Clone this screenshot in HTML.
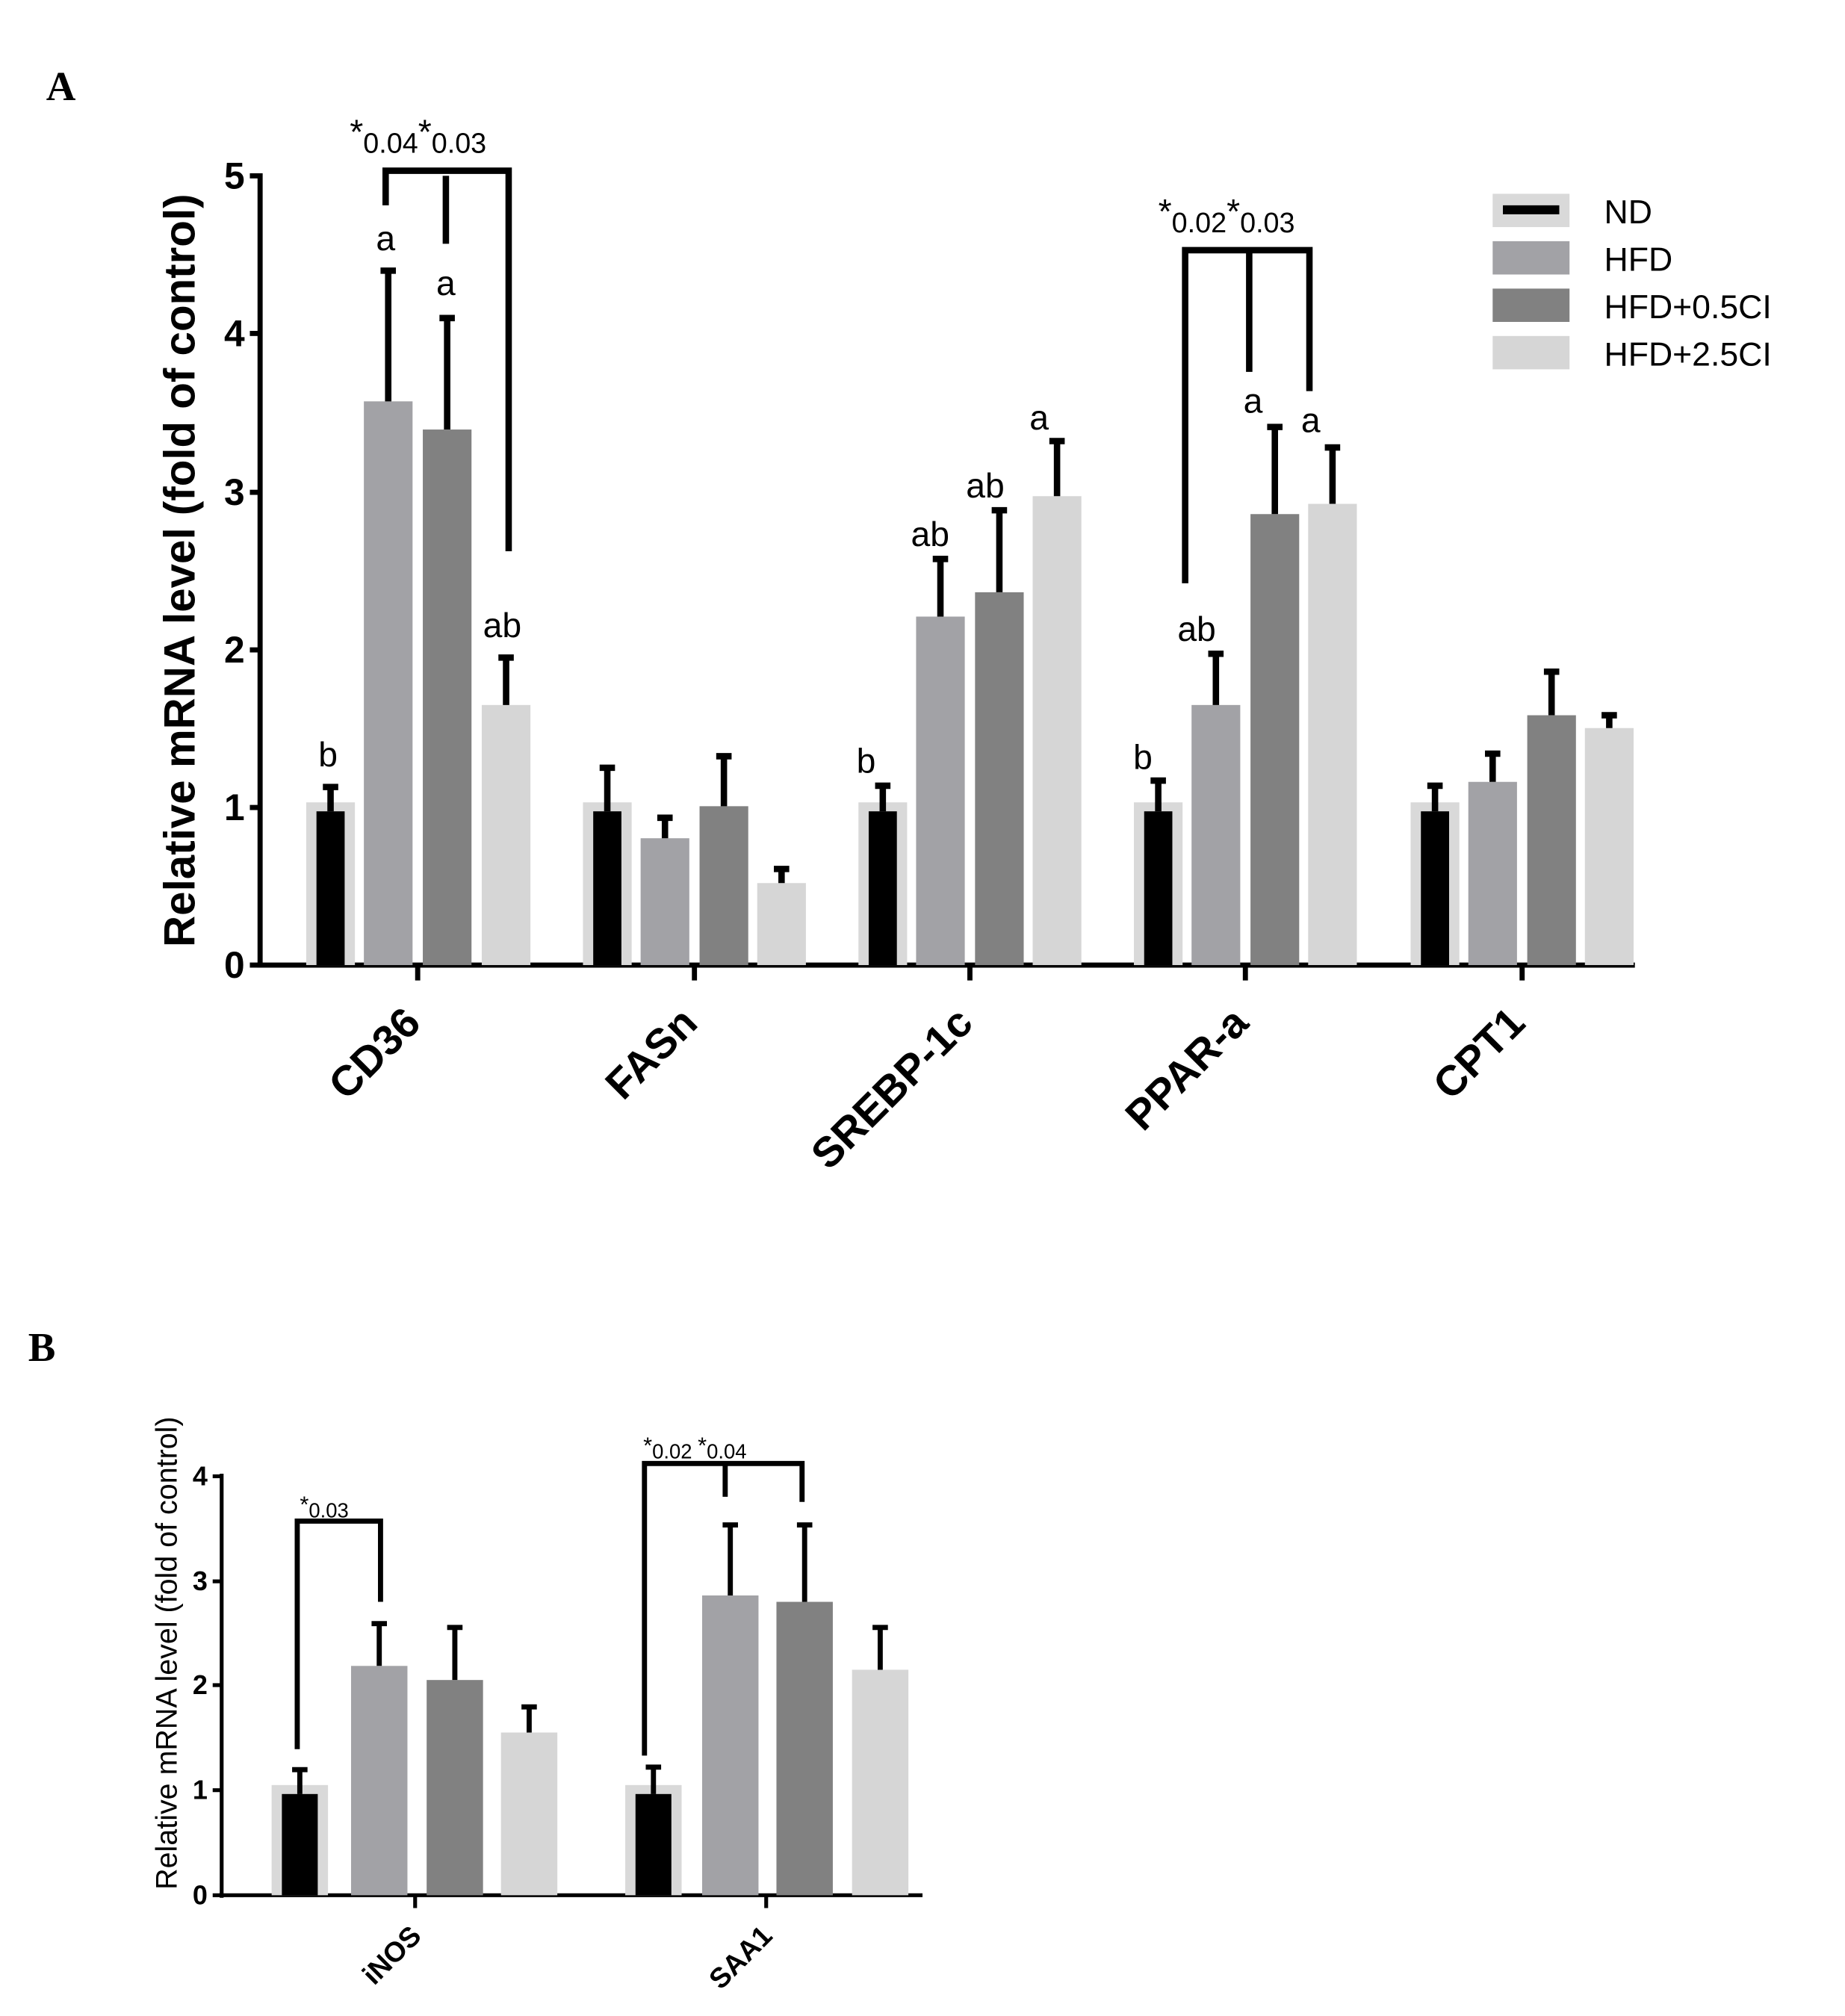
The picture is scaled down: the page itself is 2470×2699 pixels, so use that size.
<!DOCTYPE html>
<html><head><meta charset="utf-8"><style>
html,body{margin:0;padding:0;background:#fff;}
svg{display:block;}
text{font-family:"Liberation Sans",sans-serif;}
text.serif{font-family:"Liberation Serif",serif;}
</style></head><body>
<svg width="2470" height="2699" viewBox="0 0 1440 1573" xmlns="http://www.w3.org/2000/svg">
<rect width="1440" height="1573" fill="#fff"/>
<text class="serif" x="36" y="78" font-weight="bold" font-size="32">A</text>
<text class="serif" x="22" y="1062" font-weight="bold" font-size="32">B</text>

<!-- Panel A axes -->
<g stroke="#000" stroke-width="4">
<line x1="203" y1="135" x2="203" y2="755"/>
<line x1="201" y1="753" x2="1276" y2="753"/>
<line x1="195" y1="137" x2="203" y2="137"/><line x1="195" y1="260" x2="203" y2="260"/>
<line x1="195" y1="384" x2="203" y2="384"/><line x1="195" y1="507" x2="203" y2="507"/>
<line x1="195" y1="630" x2="203" y2="630"/><line x1="195" y1="753" x2="203" y2="753"/>
<line x1="326" y1="753" x2="326" y2="765"/><line x1="542" y1="753" x2="542" y2="765"/>
<line x1="757" y1="753" x2="757" y2="765"/><line x1="972" y1="753" x2="972" y2="765"/>
<line x1="1188" y1="753" x2="1188" y2="765"/>
</g>
<g font-weight="bold" font-size="29" text-anchor="end">
<text x="191" y="147">5</text><text x="191" y="270">4</text><text x="191" y="394">3</text>
<text x="191" y="517">2</text><text x="191" y="640">1</text><text x="191" y="763">0</text>
</g>
<text transform="translate(152,445) rotate(-90)" text-anchor="middle" font-weight="bold" font-size="34">Relative mRNA level (fold of control)</text>
<g font-weight="bold" font-size="33" text-anchor="end">
<text transform="translate(330,800) rotate(-45)">CD36</text>
<text transform="translate(546,800) rotate(-45)">FASn</text>
<text transform="translate(761,800) rotate(-45)">SREBP-1c</text>
<text transform="translate(976,800) rotate(-45)">PPAR-a</text>
<text transform="translate(1192,800) rotate(-45)">CPT1</text>
</g>

<!-- ND bars A -->
<g fill="#d9d9d9">
<rect x="239" y="626" width="38" height="127"/><rect x="455" y="626" width="38" height="127"/>
<rect x="670" y="626" width="38" height="127"/><rect x="885" y="626" width="38" height="127"/>
<rect x="1101" y="626" width="38" height="127"/>
</g>
<g fill="#000">
<rect x="247" y="633" width="22" height="120"/><rect x="463" y="633" width="22" height="120"/>
<rect x="678" y="633" width="22" height="120"/><rect x="893" y="633" width="22" height="120"/>
<rect x="1109" y="633" width="22" height="120"/>
</g>
<g fill="#a2a2a6">
<rect x="284" y="313" width="38" height="440"/><rect x="500" y="654" width="38" height="99"/>
<rect x="715" y="481" width="38" height="272"/><rect x="930" y="550" width="38" height="203"/>
<rect x="1146" y="610" width="38" height="143"/>
</g>
<g fill="#818181">
<rect x="330" y="335" width="38" height="418"/><rect x="546" y="629" width="38" height="124"/>
<rect x="761" y="462" width="38" height="291"/><rect x="976" y="401" width="38" height="352"/>
<rect x="1192" y="558" width="38" height="195"/>
</g>
<g fill="#d6d6d6">
<rect x="376" y="550" width="38" height="203"/><rect x="591" y="689" width="38" height="64"/>
<rect x="806" y="387" width="38" height="366"/><rect x="1021" y="393" width="38" height="360"/>
<rect x="1237" y="568" width="38" height="185"/>
</g>
<!-- error bars A -->
<g stroke="#000" stroke-width="5">
<path d="M258 633V614M252 614h12"/><path d="M474 633V599M468 599h12"/><path d="M689 633V613M683 613h12"/><path d="M904 633V609M898 609h12"/><path d="M1120 633V613M1114 613h12"/>
<path d="M303 313V211M297 211h12"/><path d="M519 654V638M513 638h12"/><path d="M734 481V436M728 436h12"/><path d="M949 550V510M943 510h12"/><path d="M1165 610V588M1159 588h12"/>
<path d="M349 335V248M343 248h12"/><path d="M565 629V590M559 590h12"/><path d="M780 462V398M774 398h12"/><path d="M995 401V333M989 333h12"/><path d="M1211 558V524M1205 524h12"/>
<path d="M395 550V513M389 513h12"/><path d="M610 689V678M604 678h12"/><path d="M825 387V344M819 344h12"/><path d="M1040 393V349M1034 349h12"/><path d="M1256 568V558M1250 558h12"/>
</g>
<!-- letters A -->
<g font-size="27" text-anchor="middle">
<text x="256" y="598">b</text><text x="301" y="195">a</text><text x="348" y="230">a</text><text x="392" y="497">ab</text>
<text x="676" y="603">b</text><text x="726" y="426">ab</text><text x="769" y="388">ab</text><text x="811" y="335">a</text>
<text x="892" y="600">b</text><text x="934" y="500">ab</text><text x="978" y="322">a</text><text x="1023" y="337">a</text>
</g>
<!-- brackets A -->
<g stroke="#000" stroke-width="5" fill="none">
<path d="M301 160V133H397V430"/><path d="M348 137V190"/>
<path d="M925 455V195H1022V305"/><path d="M975 195V290"/>
</g>
<text x="273" y="112" font-size="27">*<tspan font-size="22" dy="7">0.04</tspan><tspan dy="-7">*</tspan><tspan font-size="22" dy="7">0.03</tspan></text>
<text x="904" y="174" font-size="27">*<tspan font-size="22" dy="7">0.02</tspan><tspan dy="-7">*</tspan><tspan font-size="22" dy="7">0.03</tspan></text>

<!-- legend -->
<rect x="1165" y="151" width="60" height="26" fill="#d9d9d9"/><rect x="1173" y="160" width="44" height="7" fill="#000"/>
<rect x="1165" y="188" width="60" height="26" fill="#a2a2a6"/>
<rect x="1165" y="225" width="60" height="26" fill="#818181"/>
<rect x="1165" y="262" width="60" height="26" fill="#d6d6d6"/>
<g font-size="26">
<text x="1252" y="174">ND</text><text x="1252" y="211">HFD</text><text x="1252" y="248">HFD+0.5CI</text><text x="1252" y="285">HFD+2.5CI</text>
</g>

<!-- Panel B axes -->
<g stroke="#000" stroke-width="3">
<line x1="173" y1="1150" x2="173" y2="1481"/>
<line x1="171" y1="1479" x2="720" y2="1479"/>
<line x1="166" y1="1152" x2="173" y2="1152"/><line x1="166" y1="1234" x2="173" y2="1234"/>
<line x1="166" y1="1315" x2="173" y2="1315"/><line x1="166" y1="1397" x2="173" y2="1397"/>
<line x1="166" y1="1479" x2="173" y2="1479"/>
<line x1="324" y1="1479" x2="324" y2="1489"/><line x1="598" y1="1479" x2="598" y2="1489"/>
</g>
<g font-weight="bold" font-size="21" text-anchor="end">
<text x="162" y="1159">4</text><text x="162" y="1241">3</text><text x="162" y="1322">2</text><text x="162" y="1404">1</text><text x="162" y="1486">0</text>
</g>
<text transform="translate(138,1290) rotate(-90)" text-anchor="middle" font-size="23">Relative mRNA level (fold of control)</text>
<g font-weight="bold" font-size="22" text-anchor="end">
<text transform="translate(330,1512) rotate(-45)">iNOS</text>
<text transform="translate(604,1512) rotate(-45)">SAA1</text>
</g>
<g fill="#d9d9d9"><rect x="212" y="1393" width="44" height="86"/><rect x="488" y="1393" width="44" height="86"/></g>
<g fill="#000"><rect x="220" y="1400" width="28" height="79"/><rect x="496" y="1400" width="28" height="79"/></g>
<g fill="#a2a2a6"><rect x="274" y="1300" width="44" height="179"/><rect x="548" y="1245" width="44" height="234"/></g>
<g fill="#818181"><rect x="333" y="1311" width="44" height="168"/><rect x="606" y="1250" width="44" height="229"/></g>
<g fill="#d6d6d6"><rect x="391" y="1352" width="44" height="127"/><rect x="665" y="1303" width="44" height="176"/></g>
<g stroke="#000" stroke-width="4">
<path d="M234 1400V1381M228 1381h12"/><path d="M296 1300V1267M290 1267h12"/><path d="M355 1311V1270M349 1270h12"/><path d="M413 1352V1332M407 1332h12"/>
<path d="M510 1400V1379M504 1379h12"/><path d="M570 1245V1190M564 1190h12"/><path d="M628 1250V1190M622 1190h12"/><path d="M687 1303V1270M681 1270h12"/>
</g>
<g stroke="#000" stroke-width="4" fill="none">
<path d="M232 1365V1187H297V1250"/>
<path d="M503 1370V1142H626V1172"/><path d="M566 1142V1168"/>
</g>
<text x="234" y="1180" font-size="18">*<tspan font-size="16" dy="4">0.03</tspan></text>
<text x="502" y="1134" font-size="18">*<tspan font-size="16" dy="4">0.02 </tspan><tspan dy="-4">*</tspan><tspan font-size="16" dy="4">0.04</tspan></text>
</svg>
</body></html>
